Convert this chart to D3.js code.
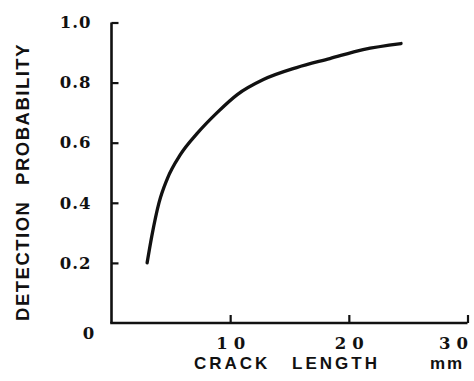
<!DOCTYPE html>
<html lang="en">
<head>
  <meta charset="UTF-8" />
  <title>Detection probability vs crack length</title>
  <script src="https://d3js.org/d3.v7.min.js"></script>
  <style>
    body {
      margin: 0;
      background: #fff;
      overflow: hidden;
    }
    .num {
      font-family: "DejaVu Serif", serif;
      font-weight: bold;
      font-size: 16.5px;
      fill: #111;
    }
    .title {
      font-family: "Liberation Sans", Arial, sans-serif;
      font-weight: bold;
      fill: #111;
    }
  </style>
</head>
<body>
<svg width="474" height="381"></svg>
<script>
// values
const crackLength = [3.0, 3.4, 4.0, 4.7, 5.8, 7.2, 8.9, 10.6, 12.8, 15.6, 18.4, 21.2, 24.4];
const detectionProb = [0.20, 0.29, 0.40, 0.48, 0.56, 0.63, 0.70, 0.76, 0.81, 0.85, 0.88, 0.91, 0.93];
const xTicks = [10, 20, 30];
const yTicks = [0.2, 0.4, 0.6, 0.8, 1.0];

const svg = d3.select("svg");

const x = d3.scaleLinear().domain([0, 30]).range([111.5, 467.5]);
const y = d3.scaleLinear().domain([0, 1]).range([323, 22.5]);

// x axis, ticks pointing up
const xAxis = svg.append("g")
  .attr("transform", `translate(0,${y(0)})`)
  .call(d3.axisBottom(x).tickValues(xTicks).tickSizeInner(-8).tickSizeOuter(0)
    .tickFormat(d3.format("d")));
xAxis.select(".domain").attr("stroke", "#111").attr("stroke-width", 2.6)
  .attr("d", `M${x(0) - 1.3},0H${x(30)}`);
xAxis.selectAll(".tick line").attr("stroke", "#111").attr("stroke-width", 2.2);
xAxis.selectAll(".tick text")
  .attr("class", "num")
  .attr("y", 14)
  .attr("letter-spacing", 6)
  .attr("text-anchor", d => d === 30 ? "end" : "middle")
  .attr("dx", d => d === 30 ? 6 : 3);

// y axis, ticks pointing right
const yAxis = svg.append("g")
  .attr("transform", `translate(${x(0)},0)`)
  .call(d3.axisLeft(y).tickValues(yTicks).tickSizeInner(-7).tickSizeOuter(0)
    .tickFormat(d3.format(".1f")));
yAxis.select(".domain").attr("stroke", "#111").attr("stroke-width", 2.6)
  .attr("d", `M0,${y(0)}V${y(1)}`);
yAxis.selectAll(".tick line").attr("stroke", "#111").attr("stroke-width", 2.2);
yAxis.selectAll(".tick text")
  .attr("class", "num")
  .attr("x", -20)
  .attr("letter-spacing", 1);

// lone zero at the corner
svg.append("text")
  .attr("class", "num")
  .attr("x", x(0) - 23)
  .attr("y", y(0) + 16)
  .attr("text-anchor", "middle")
  .text("0");

// curve
const line = d3.line()
  .x(d => x(d[0]))
  .y(d => y(d[1]))
  .curve(d3.curveMonotoneX);

svg.append("path")
  .datum(d3.zip(crackLength, detectionProb))
  .attr("fill", "none")
  .attr("stroke", "#111")
  .attr("stroke-width", 3.3)
  .attr("stroke-linecap", "round")
  .attr("d", line);

// axis titles
svg.append("text")
  .attr("class", "title")
  .attr("transform", `translate(29,${(42 + 322) / 2}) rotate(-90)`)
  .attr("text-anchor", "middle")
  .attr("font-size", 18.5)
  .attr("letter-spacing", 1.5)
  .attr("word-spacing", 9)
  .text("DETECTION PROBABILITY");

svg.append("text")
  .attr("class", "title")
  .attr("x", 287)
  .attr("y", 369)
  .attr("text-anchor", "middle")
  .attr("font-size", 17)
  .attr("letter-spacing", 3)
  .attr("word-spacing", 14)
  .text("CRACK LENGTH");

svg.append("text")
  .attr("class", "title")
  .attr("x", 447)
  .attr("y", 369)
  .attr("text-anchor", "middle")
  .attr("font-size", 17)
  .attr("letter-spacing", 2)
  .text("mm");
</script>
</body>
</html>
